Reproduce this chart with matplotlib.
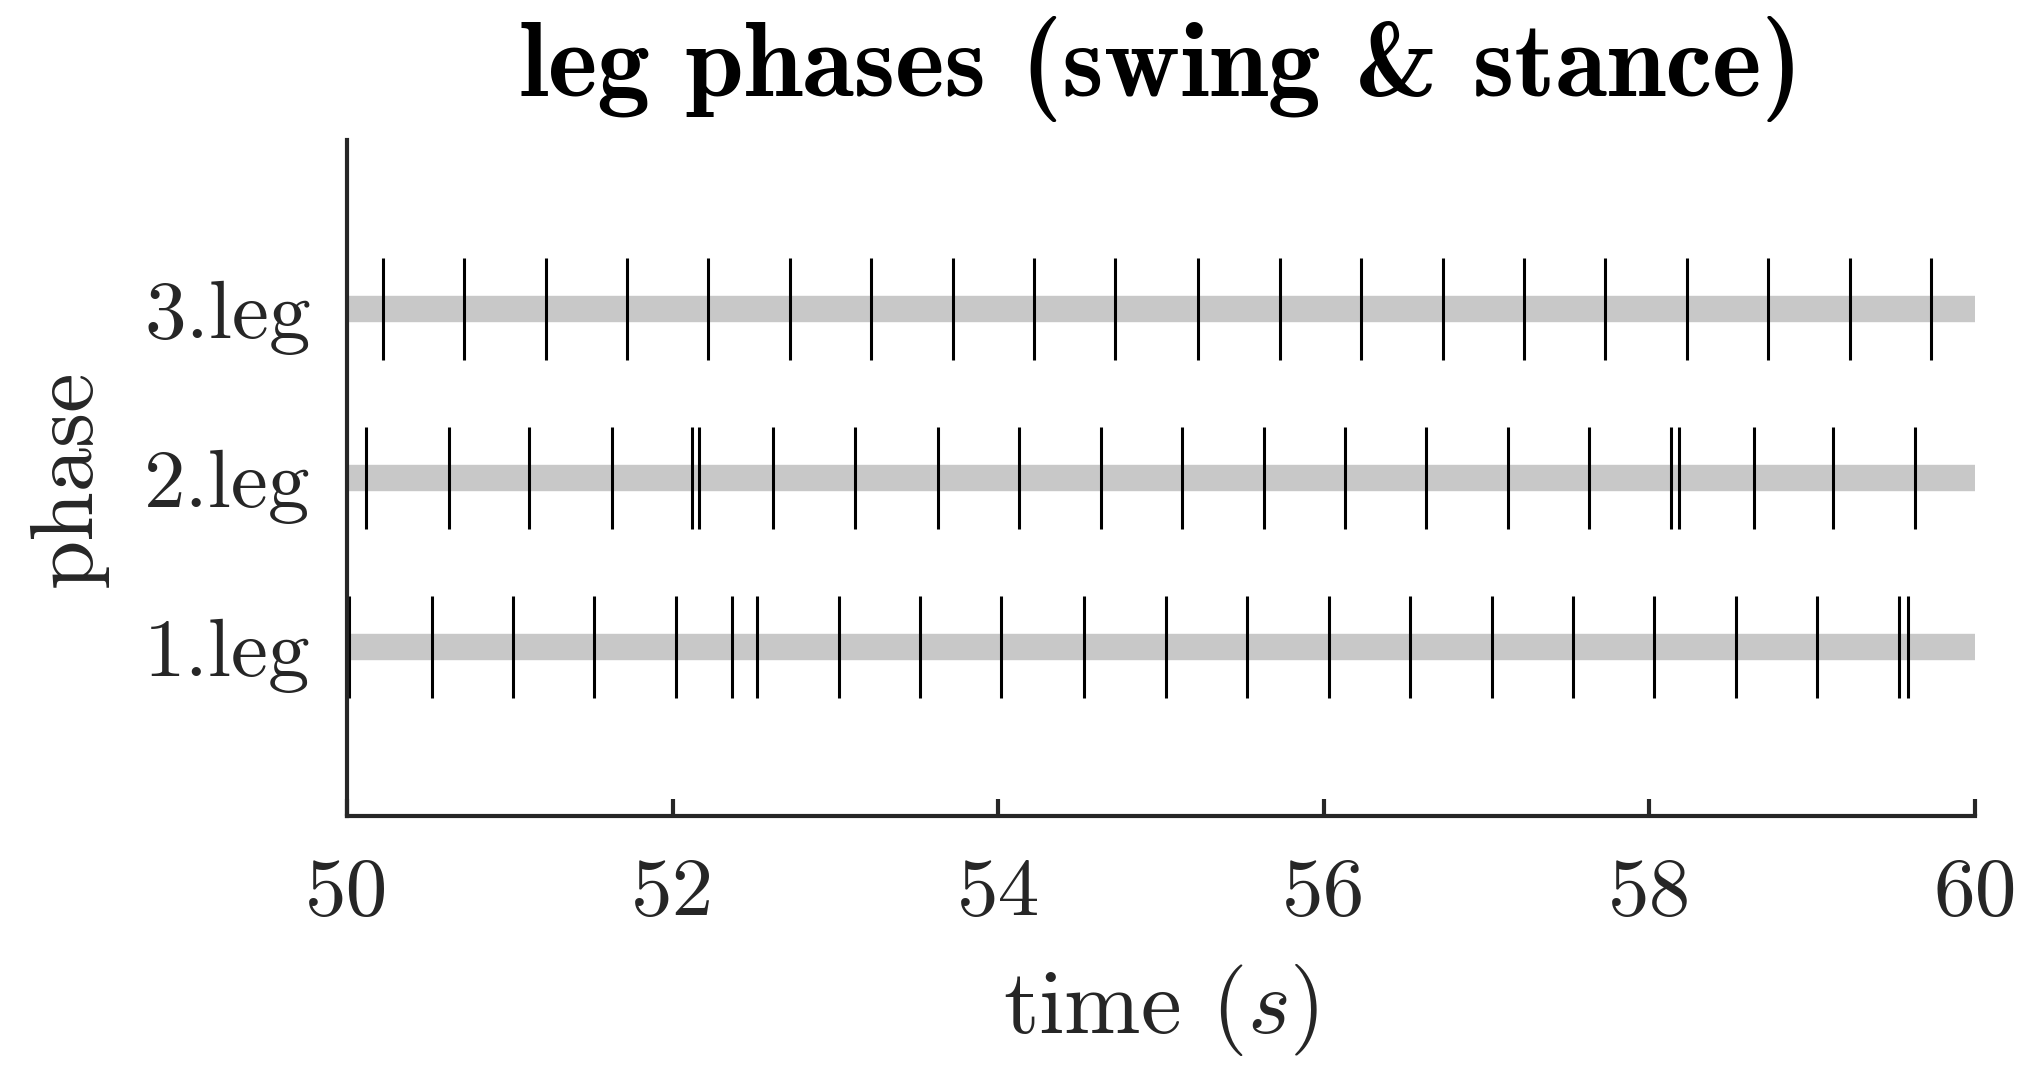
import matplotlib
matplotlib.use("Agg")
import matplotlib.pyplot as plt

# event times (s) where a leg switches phase
leg1_events = [50.015, 50.52, 51.02, 51.52, 52.02, 52.365, 52.52, 53.02, 53.52, 54.02, 54.53,
               55.03, 55.53, 56.03, 56.53, 57.03, 57.53, 58.03, 58.53, 59.03, 59.53, 59.59]
leg2_events = [50.12, 50.63, 51.12, 51.63, 52.12, 52.16, 52.62, 53.12, 53.63, 54.13, 54.63,
               55.13, 55.63, 56.13, 56.63, 57.13, 57.63, 58.13, 58.18, 58.64, 59.13, 59.63]
leg3_events = [50.22, 50.72, 51.22, 51.72, 52.22, 52.72, 53.22, 53.72, 54.22, 54.72,
               55.23, 55.73, 56.23, 56.73, 57.23, 57.73, 58.23, 58.73, 59.23, 59.73]
leg_names = ['1.leg', '2.leg', '3.leg']
t_start, t_end = 50, 60
xticks = [50, 52, 54, 56, 58, 60]

plt.rcParams['font.family'] = 'cmr10'
plt.rcParams['mathtext.fontset'] = 'cm'
plt.rcParams['axes.formatter.use_mathtext'] = True
plt.rcParams['axes.unicode_minus'] = False

ax_col = '#262626'

fig = plt.figure(figsize=(20.37, 10.87), dpi=100)
ax = fig.add_axes([0.1703, 0.2493, 0.9696 - 0.1703, 0.8712 - 0.2493])

all_events = [leg1_events, leg2_events, leg3_events]
for i, ev in enumerate(all_events):
    row = i + 1
    ax.plot([t_start, t_end], [row, row], color='#c8c8c8', lw=19,
            solid_capstyle='butt', zorder=1)
    ax.vlines(ev, row - 0.3, row + 0.3, color='black', lw=2.2, zorder=2)

ax.set_xlim(t_start, t_end)
ax.set_ylim(0, 4)
ax.set_xticks(xticks)
ax.set_xticklabels([str(v) for v in xticks])
ax.set_yticks([1, 2, 3])
ax.set_yticklabels(leg_names)

for s in ['top', 'right']:
    ax.spines[s].set_visible(False)
for s in ['left', 'bottom']:
    ax.spines[s].set_color(ax_col)
    ax.spines[s].set_linewidth(3.0)

ax.tick_params(axis='x', direction='in', length=12, width=3.0, color=ax_col,
               labelsize=60, labelcolor=ax_col, pad=30)
ax.tick_params(axis='y', length=0, labelsize=60, labelcolor=ax_col, pad=26)

ax.set_xlabel('time ($s$)', fontsize=66, color=ax_col, labelpad=22)
ax.set_ylabel('phase', fontsize=64, color=ax_col, labelpad=26)
ax.set_title('leg phases (swing & stance)', fontsize=76, fontfamily='cmb10',
             color='black', pad=32)

fig.savefig('out.png', dpi=100)
